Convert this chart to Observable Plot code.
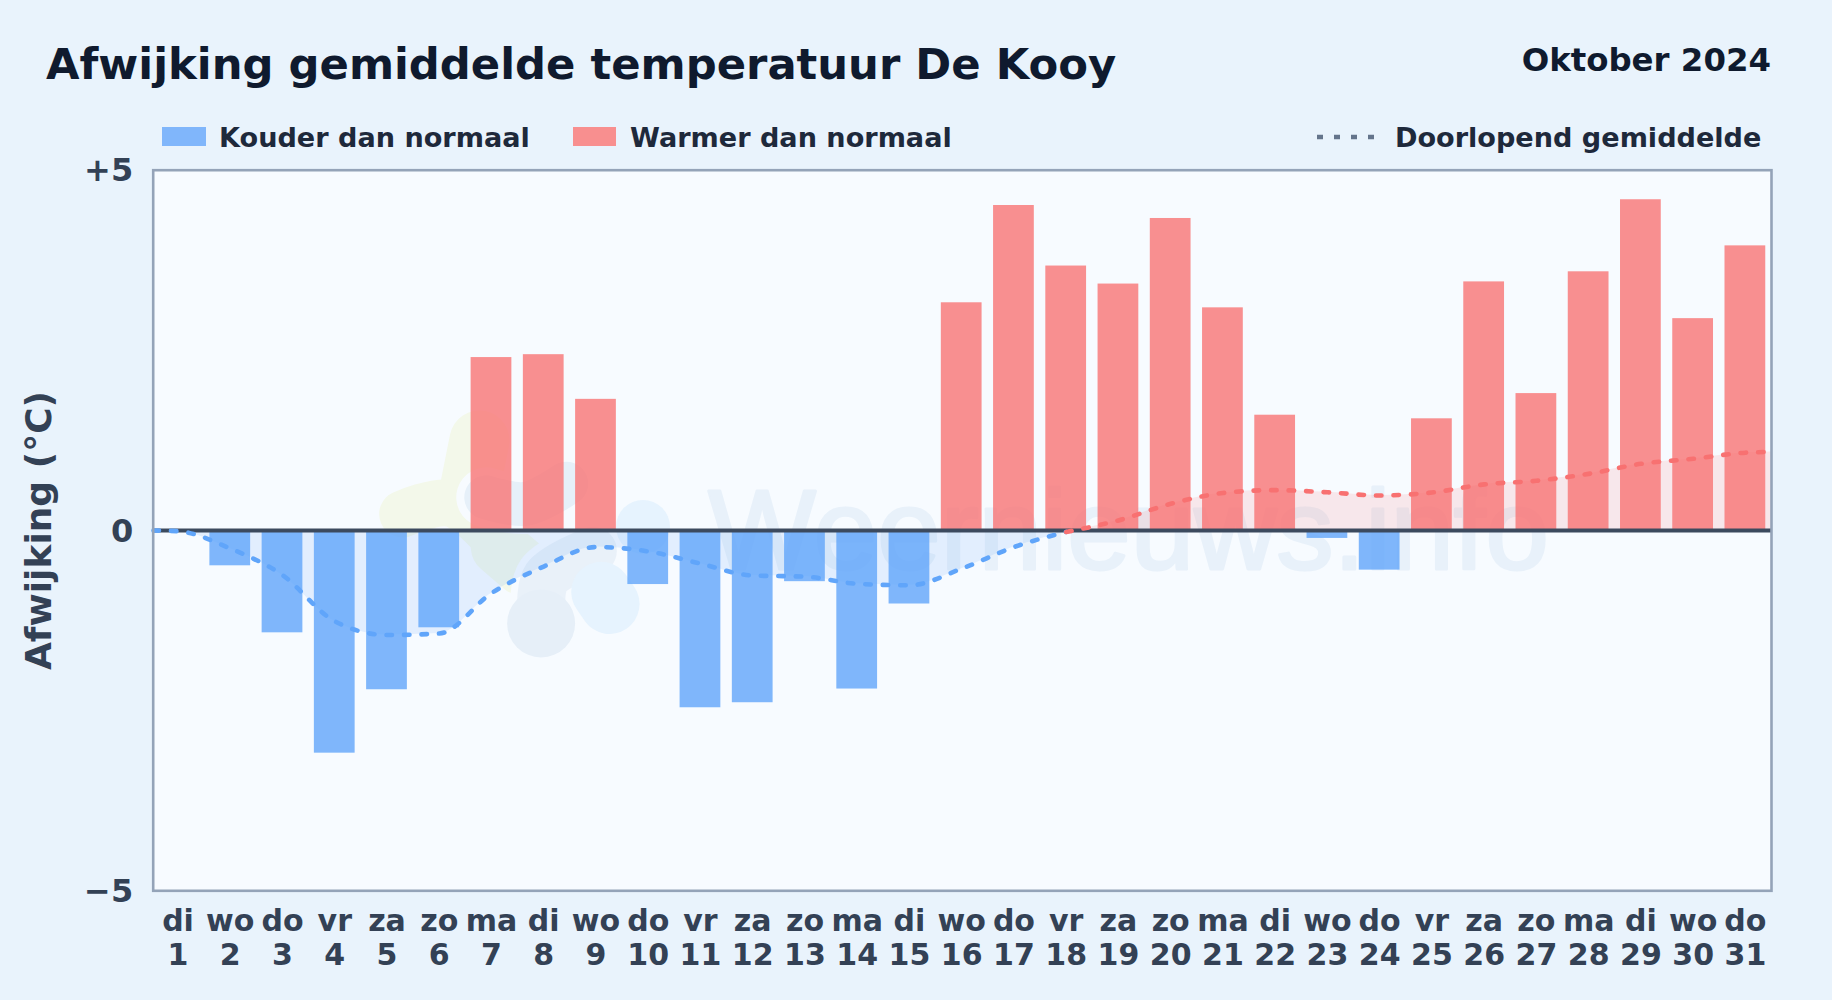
<!DOCTYPE html>
<html><head><meta charset="utf-8">
<script src="https://cdn.jsdelivr.net/npm/d3@7"></script>
<script src="https://cdn.jsdelivr.net/npm/@observablehq/plot@0.6"></script>
<style>
html,body{margin:0;padding:0;background:#e9f3fc;font-family:"DejaVu Sans",sans-serif;font-weight:700;width:1832px;height:1000px;overflow:hidden}
#head{position:relative;height:140px;width:1832px}
#head div,#head i{position:absolute;white-space:nowrap;line-height:1}
#title{left:46px;top:43px;font-size:43.3px;color:#0f1a2e}
#month{right:61px;top:44px;font-size:32.4px;color:#0f1a2e}
.lg{top:123.5px;font-size:27.1px;color:#1e293b}
#chart svg{display:block}
</style></head><body>
<div id="head">
<div id="title">Afwijking gemiddelde temperatuur De Kooy</div>
<div id="month">Oktober 2024</div>
<i style="left:162px;top:127px;width:44px;height:19px;background:#80b6fb"></i>
<div class="lg" style="left:219px">Kouder dan normaal</div>
<i style="left:573px;top:127px;width:43px;height:19px;background:#f88f8f"></i>
<div class="lg" style="left:630px">Warmer dan normaal</div>
<svg style="position:absolute;left:1317px;top:130px" width="60" height="14"><line x1="0" x2="58" y1="7" y2="7" stroke="#64748b" stroke-width="4.4" stroke-dasharray="6 11"/></svg>
<div class="lg" style="left:1395px">Doorlopend gemiddelde</div>
</div>
<div id="chart"></div>
<script>
const days = d3.range(1, 32);
const weekdays = ["di","wo","do","vr","za","zo","ma","di","wo","do","vr","za","zo","ma","di","wo","do","vr","za","zo","ma","di","wo","do","vr","za","zo","ma","di","wo","do"];
const anomaly = [0,-0.49,-1.42,-3.09,-2.21,-1.35,2.40,2.44,1.82,-0.75,-2.46,-2.39,-0.71,-2.20,-1.02,3.16,4.51,3.67,3.42,4.33,3.09,1.60,-0.11,-0.55,1.55,3.45,1.90,3.59,4.59,2.94,3.95];
const runningDays = [0.53,1,2,3,4,5,6,7,8,9,10,11,12,13,14,15,16,17,18,19,20,21,22,23,24,25,26,27,28,29,30,31,31.5];
const runningMean = [0,-0.01,-0.25,-0.62,-1.26,-1.45,-1.43,-0.87,-0.50,-0.23,-0.29,-0.46,-0.625,-0.64,-0.74,-0.76,-0.53,-0.23,-0.02,0.14,0.37,0.52,0.56,0.53,0.486,0.527,0.64,0.69,0.786,0.925,0.995,1.08,1.09];
const watermarkText = ["Weernieuws.info"];
const logoGreenA = [[5.30,0.23],[6.26,0.37],[7.47,-0.46]];
const logoGreenB = [[6.77,1.25],[6.58,0.56]];
const logoGreenC = [[7.15,-0.23],[7.6,-0.51]];
const logoGreyA = [[6.90,0.46],[7.66,0.37],[8.43,0.65]];
const logoGreyB = [[8.94,-0.28],[8.05,-0.65],[7.95,-1.05]];
const logoGreyC = [[7.95,-1.29]];
const logoBlueA = [[9.26,-1.02],[9.1,-0.85]];
const logoBlueB = [[9.9,0.05]];

const rows = days.map((d,i)=>({d, label:weekdays[i], v:anomaly[i]}));
const running = runningDays.map((d,i)=>({d, v:runningMean[i]}));
const cold = running.filter(r=>r.d<=18), warm = running.filter(r=>r.d>=18);
const pts = a => a.map(([x,y])=>({x,y}));
const blob = (a,color,width,opacity=1) => Plot.line(pts(a),{x:"x",y:"y",curve:"catmull-rom",stroke:color,strokeWidth:width,strokeOpacity:opacity,strokeLinecap:"round",strokeLinejoin:"round"});
const W=0.39;
const plot = Plot.plot({
  width:1832, height:860,
  marginLeft:152.7, marginRight:61, marginTop:29.7, marginBottom:109.7,
  style:{background:"transparent", fontFamily:"'DejaVu Sans',sans-serif", fontWeight:700, overflow:"visible"},
  x:{type:"linear", domain:[0.525,31.5]},
  y:{type:"linear", domain:[-5,5]},
  marks:[
    Plot.frame({fill:"#f7fbff", stroke:null}),
    blob(logoGreenA,"#f3f8ea",47),
    blob(logoGreenB,"#f3f8ea",60),
    blob(logoGreenC,"#f3f8ea",57),
    blob(logoGreyA,"#f7fbff",60),
    blob(logoGreyB,"#f7fbff",62),
    blob(logoBlueA,"#f7fbff",74),
    blob(logoGreyA,"#e6f0f9",44),
    blob(logoGreyB,"#e6eff8",48,0.85),
    Plot.dot(pts(logoGreyC),{x:"x",y:"y",r:34,fill:"#e6eff8"}),
    blob(logoBlueA,"#e6f3fe",60),
    Plot.dot(pts(logoBlueB),{x:"x",y:"y",r:27,fill:"#e6f3fe"}),
    Plot.text(watermarkText,{x:()=>11.15,y:()=>-0.54,text:d=>d,textAnchor:"start",lineAnchor:"bottom",fontSize:114,fontFamily:"'Liberation Sans',sans-serif",fontWeight:400,fill:"#e8f1fa",stroke:"#e8f1fa",strokeWidth:3}),
    Plot.areaY(cold,{x:"d",y1:()=>0,y2:"v",curve:"monotone-x",fill:"#60a5fa",fillOpacity:0.14}),
    Plot.areaY(warm,{x:"d",y1:()=>0,y2:"v",curve:"monotone-x",fill:"#f87171",fillOpacity:0.14}),
    Plot.rectY(rows.filter(r=>r.v<0),{x1:r=>r.d-W,x2:r=>r.d+W,y1:()=>0,y2:"v",fill:"#60a5fa",fillOpacity:0.8}),
    Plot.rectY(rows.filter(r=>r.v>0),{x1:r=>r.d-W,x2:r=>r.d+W,y1:()=>0,y2:"v",fill:"#f87171",fillOpacity:0.78}),
    Plot.ruleY([0],{stroke:"#3c4a5e",strokeWidth:3.8}),
    Plot.line(cold,{x:"d",y:"v",curve:"monotone-x",stroke:"#60a5fa",strokeWidth:4.6,strokeDasharray:"5.5 12",strokeLinecap:"round"}),
    Plot.line(warm,{x:"d",y:"v",curve:"monotone-x",stroke:"#f87171",strokeWidth:4.6,strokeDasharray:"5.5 12",strokeLinecap:"round"}),
    Plot.frame({stroke:"#94a3b8",strokeWidth:2.6}),
    Plot.axisY({ticks:[-5,0,5],tickSize:0,tickPadding:0,dx:-20,dy:1,fontSize:32,fill:"#334155",tickFormat:d=>d>0?"+"+d:d<0?"\u2212"+(-d):"0",label:null}),
    Plot.text(["Afwijking (°C)"],{frameAnchor:"left",textAnchor:"middle",dx:-114,rotate:-90,fontSize:36,fill:"#334155",text:d=>d}),
    Plot.axisX({ticks:days,tickSize:0,tickPadding:0,dy:16,fontSize:30,lineHeight:1.133,fill:"#334155",lineAnchor:"top",tickFormat:d=>weekdays[d-1]+"\n"+d,label:null})
  ]
});
document.getElementById("chart").append(plot);
</script>
</body></html>
